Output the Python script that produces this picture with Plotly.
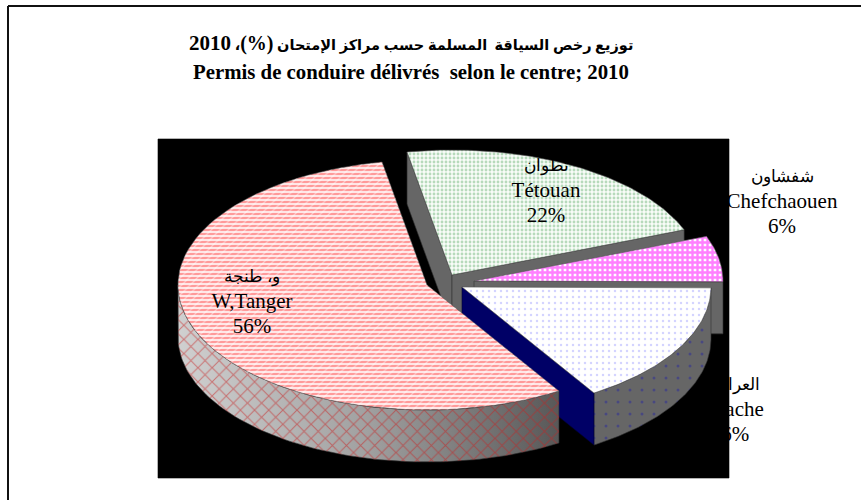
import math
import plotly.graph_objects as go

# ---- data ----
names_ar = ["و، طنجة", "تطوان", "شفشاون", "العرائش"]
names_fr = ["W,Tanger", "Tétouan", "Chefchaouen", "Larache"]
shares = [56, 22, 6, 16]
title_ar_a = "توزيع رخص السياقة\u00a0 المسلمة حسب مراكز الإمتحان"
title_fr = "Permis de conduire délivrés\u00a0 selon le centre; 2010"

# ---- layout of the drawing (pixels) ----
RX, RY, DEPTH = 249, 125, 52
START = 148  # clockwise from the top, where the first slice begins
centers = [(427, 285), (452, 275), (474, 281), (462, 287)]
label_pos = [(252, 303), (546, 192), (782, 203), (730, 411)]
LINE_GAP = 25

spans = []
a = START
for v in shares:
    spans.append((a, a + v * 3.6))
    a += v * 3.6


def pt(c, ang, dy=0):
    r = math.radians(ang)
    return c[0] + RX * math.sin(r), c[1] - RY * math.cos(r) + dy


def arc(c, a0, a1, dy=0, n=80):
    return [pt(c, a0 + (a1 - a0) * i / n, dy) for i in range(n + 1)]


def top(i):
    c = centers[i]
    return [c] + arc(c, *spans[i]) + [c]


def band(points):
    return points + [(x, y + DEPTH) for x, y in reversed(points)] + [points[0]]


fig = go.Figure()


def poly(points, fill="#666666", line="#333333", lw=0.6, **kw):
    fig.add_trace(go.Scatter(
        x=[p[0] for p in points], y=[p[1] for p in points],
        mode="lines", fill="toself", fillcolor=fill,
        line=dict(color=line, width=lw), hoverinfo="skip", showlegend=False, **kw))


def clear_pattern(points, **pattern):
    poly(points, fill="rgba(0,0,0,0)", line="rgba(0,0,0,0)", lw=0,
         fillpattern=dict(bgcolor="rgba(0,0,0,0)", **pattern))


def label(i):
    x, y = label_pos[i]
    fig.add_trace(go.Scatter(
        x=[x, x, x], y=[y - LINE_GAP, y, y + LINE_GAP], mode="text",
        text=[names_ar[i], names_fr[i], f"{shares[i]}%"],
        textposition="middle center",
        textfont=dict(family="Liberation Serif, DejaVu Serif", size=[17, 21, 21], color="#000000"),
        hoverinfo="skip", showlegend=False))


# labels that the black panel covers in part
label(2)
label(3)

# black panel
poly([(158, 139), (729, 139), (729, 478), (158, 478), (158, 139)], fill="#000000", line="#000000")

# Tetouan
c = centers[1]
poly(band([pt(c, spans[1][0]), c]))
poly(band([c, pt(c, spans[1][1])]))
poly(top(1), fill="#ffffff", line="#555555",
     fillpattern=dict(shape=".", fgcolor="#74b87e", bgcolor="#f8fcf8", size=4, solidity=0.4))

# Chefchaouen
c = centers[2]
poly(band([c, pt(c, spans[2][1])]))
poly(top(2), fill="#ffffff", line="#555555",
     fillpattern=dict(shape="+", fgcolor="#ff00ff", bgcolor="#ffffff", size=5, solidity=0.72))

# Larache
c = centers[3]
poly(band(arc(c, *spans[3])))
clear_pattern(band(arc(c, *spans[3])), shape=".", fgcolor="#2a2a9a", size=12, solidity=0.05)
poly(band([c, pt(c, spans[3][1])]), fill="#000066", line="#000033")
poly(top(3), fill="#ffffff", line="#555555",
     fillpattern=dict(shape=".", fgcolor="#a8a8ff", bgcolor="#ffffff", size=6, solidity=0.14))

# Tanger
c = centers[0]
wall = band(arc(c, spans[0][0], 270))
fig.add_trace(go.Scatter(
    x=[p[0] for p in wall], y=[p[1] for p in wall], mode="lines", fill="toself",
    fillgradient=dict(type="horizontal",
                      colorscale=[[0, "#d0d0d0"], [0.5, "#a0a0a0"], [1, "#585858"]]),
    line=dict(color="#333333", width=0.6), hoverinfo="skip", showlegend=False))
clear_pattern(wall, shape="x", fgcolor="#c82020", size=10, solidity=0.2)
poly(top(0), fill="#ffffff", line="#555555",
     fillpattern=dict(shape="-", fgcolor="#ff4d4d", bgcolor="#ffe6e6", size=4, solidity=0.5))
clear_pattern(top(0), shape="/", fgcolor="#ffffff", size=6, solidity=0.2)

label(0)
label(1)

title_line_1 = (f'<b>{title_ar_a} <span style="font-size:20px">(%)</span>، '
                f'<span style="font-size:21px">2010</span></b>')

fig.update_layout(
    width=861, height=500, margin=dict(l=0, r=0, t=0, b=0),
    paper_bgcolor="#ffffff", plot_bgcolor="#ffffff", showlegend=False,
    xaxis=dict(range=[0, 861], visible=False, fixedrange=True),
    yaxis=dict(range=[500, 0], visible=False, fixedrange=True),
    shapes=[
        dict(type="line", xref="x", yref="y", x0=8, y0=6, x1=861, y1=6,
             line=dict(color="#111111", width=2)),
        dict(type="line", xref="x", yref="y", x0=8, y0=6, x1=8, y1=500,
             line=dict(color="#111111", width=2)),
    ],
    annotations=[
        dict(xref="x", yref="y", x=411, y=43, text=title_line_1, showarrow=False,
             font=dict(family="Liberation Serif, DejaVu Sans", size=14.5, color="#000000")),
        dict(xref="x", yref="y", x=411, y=71, text=f"<b>{title_fr}</b>", showarrow=False,
             font=dict(family="Liberation Serif", size=20.8, color="#000000")),
    ],
)
fig.write_html("out.html", config={"displayModeBar": False},
               post_script="document.body.style.margin='0';")
